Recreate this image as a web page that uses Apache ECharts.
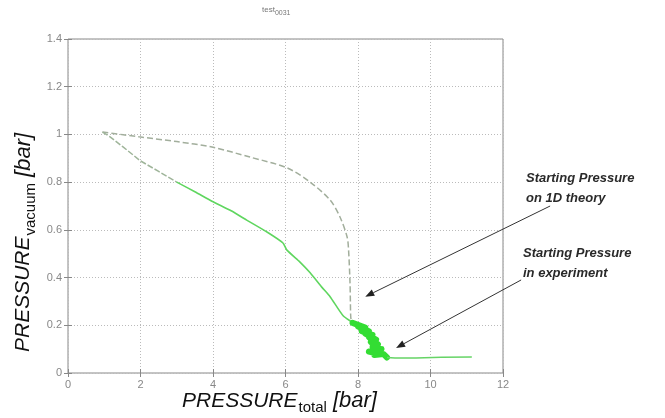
<!DOCTYPE html>
<html>
<head>
<meta charset="utf-8">
<script src="https://cdn.jsdelivr.net/npm/echarts@6/dist/echarts.min.js"></script>
<style>
  html, body { margin: 0; padding: 0; background: #fff; }
  #chart { width: 665px; height: 418px; }
</style>
</head>
<body>
<div id="chart"></div>
<script>
// values (x = total pressure, y = vacuum pressure, bar)
const upperX = [0.95, 1.96, 3.0, 3.97, 5.02, 6.04, 6.68, 7.23, 7.5, 7.7, 7.74, 7.78, 7.79, 7.8, 7.83]
const upperY = [1.01, 0.99, 0.97, 0.947, 0.905, 0.86, 0.8, 0.725, 0.655, 0.57, 0.515, 0.377, 0.3, 0.235, 0.205]

const lowerEarlyX = [0.95, 1.16, 1.5, 1.99, 2.5, 3.0]
const lowerEarlyY = [1.01, 0.99, 0.95, 0.89, 0.845, 0.8]

const lowerX = [3.0, 3.5, 3.97, 4.5, 4.94, 5.5, 5.93, 6.04, 6.4, 6.68, 7.0, 7.23, 7.59, 7.86, 8.0]
const lowerY = [0.8, 0.76, 0.72, 0.68, 0.64, 0.59, 0.545, 0.515, 0.465, 0.42, 0.36, 0.32, 0.24, 0.21, 0.19]

// oscillating part near the start of the experiment
const burstX = [7.85, 8.2, 8.0, 8.3, 8.1, 8.4, 8.2, 8.5, 8.3, 8.55, 8.35, 8.6, 8.4, 8.62, 8.45, 8.55, 8.3, 8.65, 8.45, 8.7, 8.8]
const burstY = [0.21, 0.19, 0.195, 0.175, 0.175, 0.16, 0.165, 0.14, 0.15, 0.12, 0.13, 0.1, 0.11, 0.09, 0.1, 0.08, 0.09, 0.1, 0.075, 0.08, 0.065]

const tailX = [8.8, 9.02, 9.6, 10.3, 11.14]
const tailY = [0.065, 0.063, 0.063, 0.066, 0.067]

const xTicks = [0, 2, 4, 6, 8, 10, 12]
const yTicks = [0, 0.2, 0.4, 0.6, 0.8, 1, 1.2, 1.4]

// arrows: [tail, tip] in data coordinates
const arrowTheory = [[13.3, 0.70], [8.2, 0.32]]
const arrowExperiment = [[12.5, 0.39], [9.05, 0.105]]

const pairs = (xs, ys) => xs.map((x, i) => [x, ys[i]])

const chart = echarts.init(document.getElementById('chart'))

const axisGray = '#888'
const gridLine = { show: true, lineStyle: { color: '#bbb', type: [1, 2], width: 1 } }

const option = {
  animation: false,
  grid: { left: 68, right: 162, top: 39, bottom: 45, show: true, borderColor: axisGray, borderWidth: 1 },
  xAxis: [{
    type: 'value', min: 0, max: 12, interval: 2,
    axisLine: { show: false },
    axisTick: { inside: true, length: 4, lineStyle: { color: axisGray } },
    axisLabel: { color: '#888', fontSize: 11, fontFamily: 'Liberation Sans', margin: 6,
      formatter: v => xTicks.includes(v) ? String(v) : '' },
    splitLine: gridLine
  }, {
    type: 'value', min: 0, max: 12, interval: 2, position: 'top',
    axisLine: { show: false }, axisLabel: { show: false }, splitLine: { show: false },
    axisTick: { inside: true, length: 4, lineStyle: { color: axisGray } }
  }],
  yAxis: [{
    type: 'value', min: 0, max: 1.4, interval: 0.2,
    axisLine: { show: false },
    axisTick: { inside: true, length: 4, lineStyle: { color: axisGray } },
    axisLabel: { color: '#888', fontSize: 11, fontFamily: 'Liberation Sans', margin: 6,
      formatter: v => String(yTicks.find(t => Math.abs(t - v) < 1e-6) ?? '') },
    splitLine: gridLine
  }, {
    type: 'value', min: 0, max: 1.4, interval: 0.2, position: 'right',
    axisLine: { show: false }, axisLabel: { show: false }, splitLine: { show: false },
    axisTick: { inside: true, length: 4, lineStyle: { color: axisGray } }
  }],
  series: [
    { name: 'upper', type: 'line', data: pairs(upperX, upperY), showSymbol: false, smooth: 0.3,
      lineStyle: { color: '#a2ae9c', width: 1.5, type: [6, 3] } },
    { name: 'lowerEarly', type: 'line', data: pairs(lowerEarlyX, lowerEarlyY), showSymbol: false,
      lineStyle: { color: '#9fb59a', width: 1.5, type: [6, 2] } },
    { name: 'lower', type: 'line', data: pairs(lowerX, lowerY), showSymbol: false, smooth: 0.2,
      lineStyle: { color: '#5fd65f', width: 1.6 } },
    { name: 'burst', type: 'line', data: pairs(burstX, burstY), showSymbol: false,
      lineStyle: { color: '#33dd33', width: 6, join: 'round', cap: 'round' } },
    { name: 'tail', type: 'line', data: pairs(tailX, tailY), showSymbol: false,
      lineStyle: { color: '#66d466', width: 1.6 } }
  ]
}
chart.setOption(option)

function arrowGraphic (arrow) {
  const a = chart.convertToPixel({ gridIndex: 0 }, arrow[0])
  const b = chart.convertToPixel({ gridIndex: 0 }, arrow[1])
  const ang = Math.atan2(b[1] - a[1], b[0] - a[0])
  const len = 9, half = 3.5
  const bx = b[0] - len * Math.cos(ang), by = b[1] - len * Math.sin(ang)
  const px = -Math.sin(ang) * half, py = Math.cos(ang) * half
  return [
    { type: 'line', shape: { x1: a[0], y1: a[1], x2: bx, y2: by }, style: { stroke: '#333', lineWidth: 1 } },
    { type: 'polygon', shape: { points: [[b[0], b[1]], [bx + px, by + py], [bx - px, by - py]] }, style: { fill: '#222' } }
  ]
}

const noteStyle = { fill: '#2a2a2a', font: 'italic bold 13px "Liberation Sans"' }
const axisNameRich = {
  a: { fontSize: 21, fontStyle: 'italic', fontFamily: 'Liberation Sans', fill: '#111' },
  b: { fontSize: 15, fontFamily: 'Liberation Sans', fill: '#111', padding: [14, 6, 0, 1] },
  c: { fontSize: 22, fontStyle: 'italic', fontFamily: 'Liberation Sans', fill: '#111' }
}

chart.setOption({
  graphic: [
    ...arrowGraphic(arrowTheory),
    ...arrowGraphic(arrowExperiment),
    { type: 'text', left: 526, top: 168, style: { ...noteStyle, text: 'Starting Pressure\non 1D theory', lineHeight: 20 } },
    { type: 'text', left: 523, top: 243, style: { ...noteStyle, text: 'Starting Pressure\nin experiment', lineHeight: 20 } },
    { type: 'text', left: 262, top: 6, style: {
      text: '{a|test}{b|0031}', fill: '#777',
      rich: { a: { fontSize: 8, fontFamily: 'Liberation Sans', fill: '#777' },
              b: { fontSize: 7, fontFamily: 'Liberation Sans', fill: '#777', padding: [7, 0, 0, 0] } } } },
    { type: 'text', left: 182, top: 390, style: { text: '{a|PRESSURE}{b|total}{c|[bar]}', rich: axisNameRich } },
    { type: 'text', x: 9, y: 352, rotation: Math.PI / 2, style: { text: '{a|PRESSURE}{b|vacuum}{c|[bar]}', rich: axisNameRich } }
  ]
})
</script>
</body>
</html>
